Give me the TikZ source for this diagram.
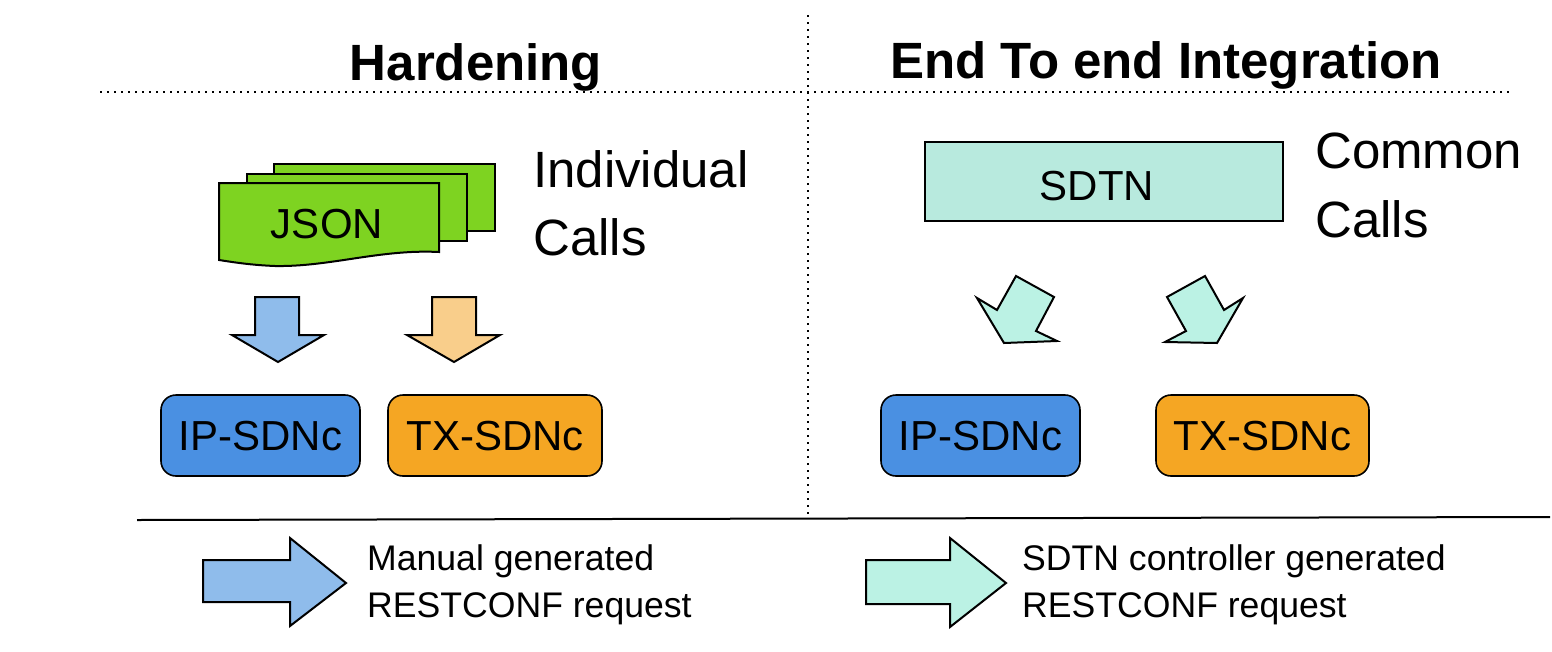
\documentclass[tikz,border=0pt]{standalone}
\usepackage{fontspec}
\setmainfont{Liberation Sans}
\definecolor{jsongreen}{HTML}{7ED321}
\definecolor{ipblue}{HTML}{4A90E2}
\definecolor{txorange}{HTML}{F5A623}
\definecolor{lblue}{HTML}{8FBCEB}
\definecolor{lorange}{HTML}{F9CE8B}
\definecolor{lteal}{HTML}{BBF2E4}
\definecolor{sdtnteal}{HTML}{B8EADE}
\tikzset{
  shp/.style={draw=black, line width=2pt, line join=miter},
  title/.style={font=\fontsize{51}{61}\selectfont\bfseries, inner sep=0pt, anchor=base},
  big/.style={font=\fontsize{51}{61}\selectfont, inner sep=0pt, anchor=base west},
  leg/.style={font=\fontsize{35.6}{42}\selectfont, inner sep=0pt, anchor=base west},
  sdnbox/.style={draw=black, line width=1.6pt, rounded corners=15pt, minimum width=#1, minimum height=81pt, inner sep=0pt, text height=30pt, text depth=0pt, font=\fontsize{42}{50}\selectfont},
  dotline/.style={line width=1.6pt, dash pattern=on 1.6pt off 5.4pt},
}
\begin{document}
\begin{tikzpicture}[x=1pt,y=-1pt]
\useasboundingbox (0,0) rectangle (1552,651);
% titles
\node[title] (t1) at (476,80) {Hardening};
\node[title] (t2) at (1166,78) {End To end Integration};
% separators
\draw[dotline] (100,92) -- (1510,92);
\draw[dotline] (808,15) -- (808,515);
\draw[line width=2pt] (137,520) -- (1550,517);
% JSON stack
\draw[shp, fill=jsongreen] (274,164) -- (495,164) -- (495,231) -- (467,231) -- (467,174) -- (274,174) -- cycle;
\draw[shp, fill=jsongreen] (247,174) -- (467,174) -- (467,241) -- (439,241) -- (439,183) -- (247,183) -- cycle;
\draw[shp, fill=jsongreen] (219,183) -- (439,183) -- (439,252)
  .. controls (380,249) and (330,267) .. (275,266)
  .. controls (250,265) and (232,262) .. (219,260) -- cycle;
\node[font=\fontsize{42}{50}\selectfont, inner sep=0pt, anchor=base] (json) at (327,238) {JSON};
\node[big] (ind1) at (533,187) {Individual};
\node[big] (ind2) at (533,255) {Calls};
% down arrows
\draw[shp, fill=lblue] (255,297) -- (299,297) -- (299,335) -- (324,335) -- (278,362) -- (232,335) -- (255,335) -- cycle;
\draw[shp, fill=lorange] (432,297) -- (476,297) -- (476,335) -- (500,335) -- (454,362) -- (407,335) -- (432,335) -- cycle;
% SDNc boxes left
\node[sdnbox=199pt, fill=ipblue] (ip1) at (260.5,435.5) {IP-SDNc};
\node[sdnbox=214pt, fill=txorange] (tx1) at (495,435.5) {TX-SDNc};
% SDTN
\node[draw=black, line width=1.6pt, fill=sdtnteal, minimum width=358pt, minimum height=79pt, inner sep=0pt] (sdtn) at (1104,181.5) {};
\node[font=\fontsize{42}{50}\selectfont, inner sep=0pt, anchor=base] (sdtnlbl) at (1097,200) {SDTN};
\node[big] (com1) at (1315,168) {Common};
\node[big] (com2) at (1315,237) {Calls};
% teal tilted arrows
\draw[shp, fill=lteal] (1016,276) -- (1054,297) -- (1036,331) -- (1057,341) -- (1004,343) -- (977,298) -- (997,310) -- cycle;
\draw[shp, fill=lteal] (1205,276) -- (1224,310) -- (1243,298) -- (1217,343) -- (1165,342) -- (1186,331) -- (1167,297) -- cycle;
% SDNc boxes right
\node[sdnbox=199pt, fill=ipblue] (ip2) at (980.5,435.5) {IP-SDNc};
\node[sdnbox=213pt, fill=txorange] (tx2) at (1262.5,435.5) {TX-SDNc};
% legend
\draw[shp, fill=lblue] (203,560) -- (290,560) -- (290,538) -- (346,583) -- (290,626) -- (290,602) -- (203,602) -- cycle;
\node[leg] (l1a) at (367,570) {Manual generated};
\node[leg] (l1b) at (367,617) {RESTCONF request};
\draw[shp, fill=lteal] (866,560) -- (950,560) -- (950,538) -- (1006,583) -- (950,627) -- (950,604) -- (866,604) -- cycle;
\node[leg] (l2a) at (1022,570) {SDTN controller generated};
\node[leg] (l2b) at (1022,617) {RESTCONF request};
\end{tikzpicture}
\end{document}
